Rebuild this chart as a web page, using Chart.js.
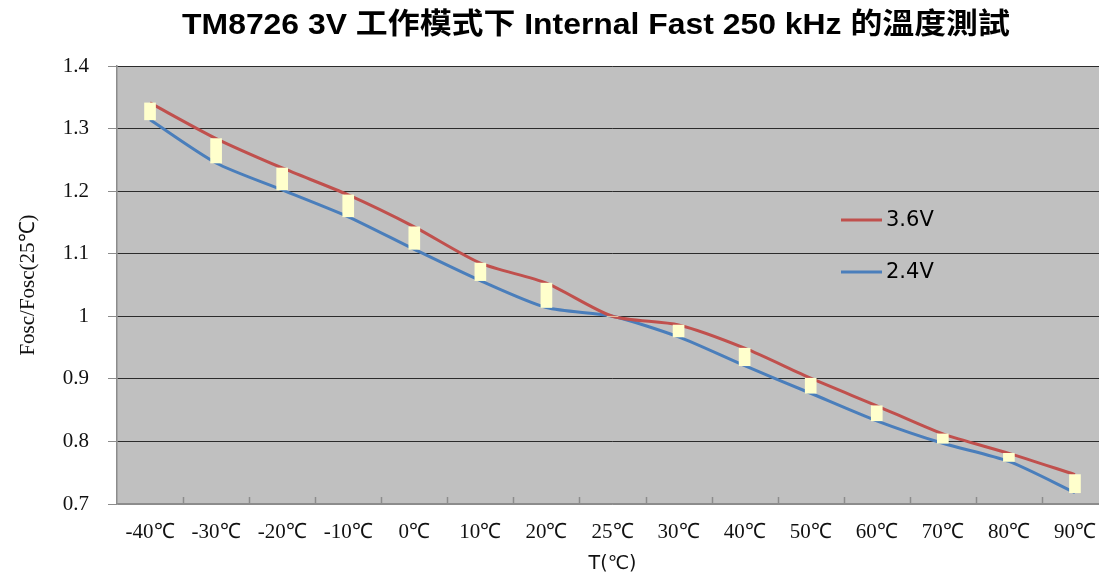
<!DOCTYPE html>
<html>
<head>
<meta charset="utf-8">
<script src="https://cdn.jsdelivr.net/npm/chart.js@4"></script>
<style>
  body { margin: 0; background: #fff; overflow: hidden; }
  #wrap { width: 1108px; height: 575px; }
</style>
</head>
<body>
<div id="wrap"><canvas id="grafico" width="1108" height="575"></canvas></div>
<script>
// valores
const titulo = 'TM8726 3V 工作模式下 Internal Fast 250 kHz 的溫度測試';
const temperaturas = ['-40℃', '-30℃', '-20℃', '-10℃', '0℃', '10℃', '20℃', '25℃', '30℃', '40℃', '50℃', '60℃', '70℃', '80℃', '90℃'];
const serie36 = [1.341, 1.284, 1.237, 1.194, 1.143, 1.085, 1.053, 1.000, 0.986, 0.949, 0.901, 0.857, 0.812, 0.781, 0.747];
const serie24 = [1.314, 1.245, 1.202, 1.159, 1.107, 1.057, 1.014, 1.000, 0.967, 0.921, 0.877, 0.833, 0.797, 0.768, 0.718];
const nomes = ['3.6V', '2.4V'];

// barras entre as duas séries (up-down bars)
const barras = temperaturas.map((t, i) => [serie24[i], serie36[i]]);

const fundoPlot = {
    id: 'fundoPlot',
    beforeDraw(chart) {
        const { ctx, chartArea: a } = chart;
        ctx.save();
        ctx.fillStyle = '#c0c0c0';
        ctx.fillRect(a.left, a.top, a.right - a.left, a.bottom - a.top);
        ctx.restore();
    },
    afterDraw(chart) {
        const { ctx, chartArea: a, scales } = chart;
        ctx.save();
        // marcas internas do eixo x
        ctx.strokeStyle = '#8c8c8c';
        ctx.lineWidth = 1.5;
        for (let i = 1; i < temperaturas.length; i++) {
            const x = Math.round(scales.x.getPixelForValue(i - 0.5)) + 0.5;
            ctx.beginPath();
            ctx.moveTo(x, a.bottom);
            ctx.lineTo(x, a.bottom - 7);
            ctx.stroke();
        }
        // titulo (um pouco esticado na horizontal, como no original)
        ctx.save();
        ctx.translate(596, 26);
        ctx.scale(1.1, 1);
        ctx.fillStyle = '#000';
        ctx.font = "bold 29px 'Liberation Sans', 'Noto Sans CJK TC', sans-serif";
        ctx.textAlign = 'center';
        ctx.textBaseline = 'middle';
        ctx.fillText(titulo, 0, 0);
        ctx.restore();
        // legenda
        ctx.font = "21px 'DejaVu Sans', sans-serif";
        ctx.textAlign = 'left';
        ctx.textBaseline = 'middle';
        chart.data.datasets.filter(d => d.type === 'line').forEach((d, i) => {
            const y = 220 + i * 52;
            ctx.strokeStyle = d.borderColor;
            ctx.lineWidth = 3;
            ctx.beginPath();
            ctx.moveTo(841, y);
            ctx.lineTo(882, y);
            ctx.stroke();
            ctx.fillStyle = '#000';
            ctx.fillText(d.label, 886, y + 1);
        });
        ctx.restore();
    }
};

new Chart(document.getElementById('grafico'), {
    type: 'line',
    data: {
        labels: temperaturas,
        datasets: [
            { type: 'bar', label: 'updown', data: barras, backgroundColor: '#ffffcc', borderWidth: 0, barThickness: 11, order: 0 },
            { type: 'line', label: nomes[0], data: serie36, borderColor: '#c0504d', borderWidth: 3, pointRadius: 0, tension: 0.25, order: 1 },
            { type: 'line', label: nomes[1], data: serie24, borderColor: '#4a7ebb', borderWidth: 3, pointRadius: 0, tension: 0.25, order: 2 }
        ]
    },
    options: {
        responsive: false,
        animation: false,
        layout: { padding: { top: 66, left: 0, right: 0, bottom: 0 } },
        plugins: {
            legend: { display: false },
            tooltip: { enabled: false }
        },
        scales: {
            x: {
                offset: true,
                grid: { display: false, offset: true },
                border: { color: '#8c8c8c', width: 1.5 },
                ticks: {
                    padding: 8,
                    maxRotation: 0,
                    autoSkip: false,
                    color: '#111',
                    font: { family: "'Liberation Serif', serif", size: 21 }
                },
                title: {
                    display: true,
                    text: 'T(℃)',
                    color: '#111',
                    font: { family: "'DejaVu Sans', sans-serif", size: 19 },
                    padding: { top: 0, bottom: 0 }
                },
                afterFit(scale) { scale.height = 71; }
            },
            y: {
                min: 0.7,
                max: 1.4,
                ticks: {
                    stepSize: 0.1,
                    padding: 19,
                    color: '#111',
                    font: { family: "'Liberation Serif', serif", size: 21 },
                    callback: v => String(Math.round(v * 10) / 10)
                },
                grid: {
                    color: c => (c.tick && c.tick.value <= 0.70001) ? '#8c8c8c' : '#2b2b2b',
                    lineWidth: 1,
                    tickLength: 9,
                    tickColor: '#8c8c8c'
                },
                border: { color: '#8c8c8c', width: 1.5 },
                title: {
                    display: true,
                    text: 'Fosc/Fosc(25℃)',
                    color: '#111',
                    font: { family: "'Liberation Serif', serif", size: 21 },
                    padding: { top: 16, bottom: 0 }
                },
                afterFit(scale) { scale.width = 117; }
            }
        }
    },
    plugins: [fundoPlot]
});
</script>
</body>
</html>
